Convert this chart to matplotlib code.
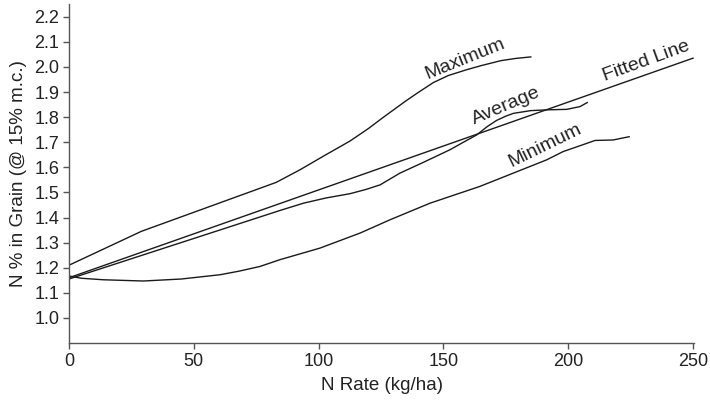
"""
N concentration in grain against N rate: maximum, average,
minimum and fitted line.
"""
import matplotlib
matplotlib.use("Agg")
import matplotlib.pyplot as plt

plt.rcParams["font.family"] = ["Liberation Sans", "DejaVu Sans"]
plt.rcParams["font.size"] = 13

# Maximum curve
max_rate = [0, 29, 83, 92.5, 102, 112.6, 120, 126, 135, 140, 146, 152, 159,
            165, 173, 179, 185]
max_n = [1.21, 1.345, 1.54, 1.59, 1.645, 1.705, 1.755, 1.80, 1.865, 1.899,
         1.938, 1.966, 1.988, 2.005, 2.025, 2.034, 2.04]

# Average curve
avg_rate = [0, 84.5, 93.9, 103, 112.6, 119, 124.6, 132.6, 142, 152.6, 158,
            163.3, 167.5, 171.3, 175, 178, 185, 191.4, 199.4, 204.7, 207.6]
avg_n = [1.155, 1.428, 1.457, 1.478, 1.495, 1.512, 1.530, 1.577, 1.62, 1.67,
         1.70, 1.729, 1.762, 1.787, 1.804, 1.815, 1.826, 1.829, 1.831, 1.842,
         1.858]

# Minimum curve
min_rate = [0, 5, 13.6, 29.8, 45, 60.5, 68, 76.5, 84.5, 100.5, 116.6, 128.6,
            144.6, 164.6, 178, 191.4, 198, 204.7, 210.7, 218, 224.4]
min_n = [1.167, 1.158, 1.152, 1.147, 1.155, 1.172, 1.186, 1.205, 1.232, 1.278,
         1.338, 1.391, 1.457, 1.524, 1.577, 1.63, 1.663, 1.686, 1.707, 1.709,
         1.722]

# Fitted line end points
fit_rate = [0, 250]
fit_n = [1.16, 2.035]

y_ticks = [1.0, 1.1, 1.2, 1.3, 1.4, 1.5, 1.6, 1.7, 1.8, 1.9, 2.0, 2.1, 2.2]
x_ticks = [0, 50, 100, 150, 200, 250]

fig = plt.figure(figsize=(7.1, 4), dpi=100)
ax = fig.add_axes([0.0972, 0.1425, 0.8807, 0.847])

line_style = dict(color="#1a1a1a", linewidth=1.0)
ax.plot(max_rate, max_n, **line_style)
ax.plot(avg_rate, avg_n, **line_style)
ax.plot(min_rate, min_n, **line_style)
ax.plot(fit_rate, fit_n, **line_style)

# curve labels sit along each line
label_style = dict(ha="center", va="center", rotation_mode="anchor",
                   color="#222222", fontsize=14)
ax.text(158.6, 2.032, "Maximum", rotation=22, **label_style)
ax.text(175.1, 1.846, "Average", rotation=23, **label_style)
ax.text(190.7, 1.685, "Minimum", rotation=26, **label_style)
ax.text(231.2, 2.022, "Fitted Line", rotation=20, **label_style)

ax.set_xlim(0, 250.5)
ax.set_ylim(0.9, 2.25)
ax.set_xticks(x_ticks)
ax.set_yticks(y_ticks)
ax.set_yticklabels([f"{v:.1f}" for v in y_ticks])

for side in ["top", "right"]:
    ax.spines[side].set_visible(False)
for side in ["left", "bottom"]:
    ax.spines[side].set_color("#555555")
    ax.spines[side].set_linewidth(1.0)
ax.tick_params(direction="out", length=4, width=1, color="#555555",
               labelcolor="#222222", labelsize=13, pad=3)

ax.set_xlabel("N Rate (kg/ha)", color="#222222", fontsize=13.5, labelpad=5)
ax.set_ylabel("N % in Grain (@ 15% m.c.)", color="#222222", fontsize=13.5,
              labelpad=5)

fig.savefig("out.png", dpi=100)
